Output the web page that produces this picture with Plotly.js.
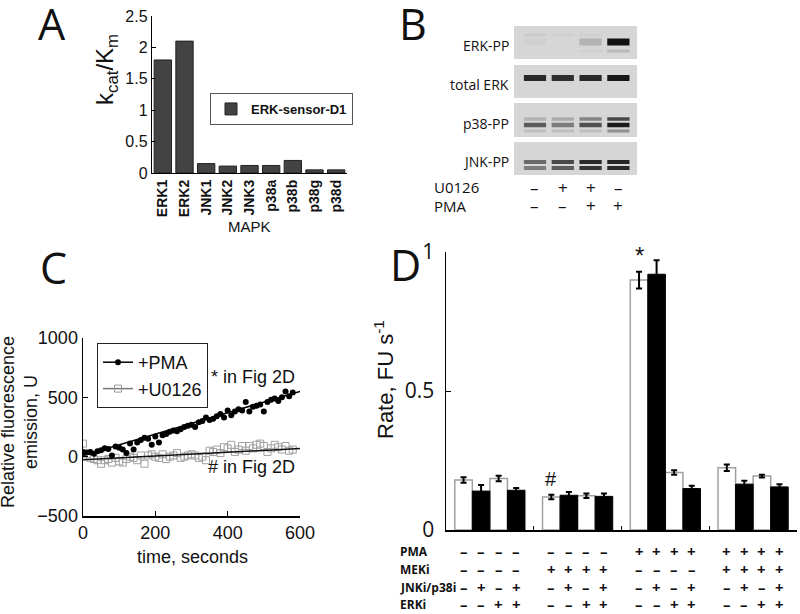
<!DOCTYPE html>
<html><head><meta charset="utf-8">
<script src="https://cdn.plot.ly/plotly-3.0.1.min.js"></script>
<style>html,body{margin:0;padding:0;background:#fff}#chart{width:800px;height:614px}</style>
</head><body><div id="chart"></div>
<script>
// ---------- Panel A data ----------
const mapk = ['ERK1','ERK2','JNK1','JNK2','JNK3','p38a','p38b','p38g','p38d'];
const kcatKm = [1.8, 2.1, 0.15, 0.11, 0.12, 0.12, 0.2, 0.05, 0.05];

// ---------- Panel B data (band intensities 0..1 per lane) ----------
const blotRows = ['ERK-PP','total ERK','p38-PP','JNK-PP'];
const lanes = [1, 2, 3, 4];
const u0126Signs = ['–','+','+','–'];
const pmaSignsB = ['–','–','+','+'];
const erkPPupper = [0.06, 0.03, 0.03, 0.0];
const erkPPmain = [0.03, 0.0, 0.18, 1.0];
const erkPPlower = [0.0, 0.0, 0.03, 0.15];
const totalERK = [0.88, 0.85, 0.88, 0.97];
const p38upper = [0.18, 0.22, 0.42, 0.72];
const p38main = [0.62, 0.45, 0.68, 0.95];
const p38lower = [0.12, 0.12, 0.12, 0.35];
const jnkUpper = [0.55, 0.72, 0.88, 0.9];
const jnkLower = [0.45, 0.62, 0.82, 0.88];

// ---------- Panel C data ----------
const timeS = [0,10,20,30,40,50,60,70,80,90,100,110,120,130,140,150,160,170,180,190,200,210,220,230,240,250,260,270,280,290,300,310,320,330,340,350,360,370,380,390,400,410,420,430,440,450,460,470,480,490,500,510,520,530,540,550,560,570,580];
const pmaFluor = [40,35,40,25,45,55,70,65,10,85,75,60,30,110,60,120,140,160,150,100,170,120,180,190,210,220,215,230,250,260,270,250,290,300,330,310,320,340,360,330,390,350,380,400,390,460,380,420,430,440,380,460,480,490,470,500,550,510,540];
const u0126Fluor = [110,20,-10,-20,-30,-60,-30,-20,-50,-10,-40,-50,-20,0,-10,-30,10,-60,10,20,0,-10,20,-20,0,10,30,-10,0,10,20,10,-10,0,-30,50,40,60,30,80,70,100,40,60,90,50,90,70,100,110,90,40,70,100,80,60,90,50,60];
const fitTime = [0, 600];
const fitPMA = [10, 550];
const fitU0126 = [-25, 68];

// ---------- Panel D data ----------
const rateMean = [0.18, 0.14, 0.185, 0.143, 0.119, 0.125, 0.123, 0.121, 0.899, 0.92, 0.207, 0.149, 0.224, 0.165, 0.194, 0.155];
const rateErr  = [0.01, 0.022, 0.01, 0.008, 0.008, 0.012, 0.008, 0.01, 0.03, 0.05, 0.008, 0.01, 0.012, 0.012, 0.005, 0.01];
const rowLabels = ['PMA','MEKi','JNKi/p38i','ERKi'];
const pmaRow  = ['–','–','–','–','–','–','–','–','+','+','+','+','+','+','+','+'];
const mekiRow = ['–','–','–','–','+','+','+','+','–','–','–','–','+','+','+','+'];
const jnkRow  = ['–','+','–','+','–','+','–','+','–','+','–','+','–','+','–','+'];
const erkRow  = ['–','–','+','+','–','–','+','+','–','–','+','+','–','–','+','+'];

// ---------- helpers ----------
const W = 800, H = 614;
const px = x => x / W;
const py = y => 1 - y / H;
const ARIAL = 'Liberation Sans, Arial, sans-serif';
const OPEN = 'Open Sans, sans-serif';

const traces = [];
const annotations = [];
const shapes = [];

// Panel A
traces.push({type:'bar', x: mapk, y: kcatKm, xaxis:'x', yaxis:'y', name:'ERK-sensor-D1',
  width: 0.8, marker:{color:'#434343', line:{color:'#222', width:1}}, legend:'legend'});

// Panel B bands
const bandDefs = [
  {v: erkPPupper, y: 35, w: 3}, {v: erkPPmain, y: 42, w: 7}, {v: erkPPlower, y: 51, w: 3},
  {v: totalERK, y: 78, w: 6},
  {v: p38upper, y: 119, w: 3.5}, {v: p38main, y: 125, w: 4.5}, {v: p38lower, y: 131, w: 3},
  {v: jnkUpper, y: 162, w: 4}, {v: jnkLower, y: 168, w: 4}
];
const rowTop = [26, 65, 103, 142], rowBot = [59, 98, 137, 175];
rowTop.forEach((t, i) => {
  shapes.push({type:'rect', xref:'x3 domain', yref:'y3', x0:0, x1:1, y0:t, y1:rowBot[i],
    fillcolor:'#d6d6d6', line:{width:0}, layer:'below'});
  annotations.push({text: blotRows[i], xref:'paper', yref:'y3', x: px(511), y: (t + rowBot[i]) / 2 + 3,
    xanchor:'right', showarrow:false, font:{family:OPEN, size:14, color:'#111'}});
});
bandDefs.forEach(b => {
  lanes.forEach((l, i) => {
    const inten = b.v[i];
    if (inten <= 0) return;
    const g = Math.round(214 - inten * 197);
    traces.push({type:'scatter', mode:'lines', xaxis:'x3', yaxis:'y3', showlegend:false, hoverinfo:'skip',
      x:[l - 0.4, l + 0.4], y:[b.y, b.y],
      line:{color:`rgb(${g},${g},${g})`, width: b.w}});
  });
});
lanes.forEach((l, i) => {
  annotations.push({text: u0126Signs[i], xref:'x3', yref:'paper', x: l, y: py(187), showarrow:false, borderpad:0,
    font:{family:OPEN, size:17, color:'#111'}});
  annotations.push({text: pmaSignsB[i], xref:'x3', yref:'paper', x: l, y: py(206), showarrow:false, borderpad:0,
    font:{family:OPEN, size:17, color:'#111'}});
});
annotations.push({text:'U0126', xref:'paper', yref:'paper', x: px(433), y: py(187), xanchor:'left', showarrow:false, borderpad:0,
  font:{family:OPEN, size:15, color:'#111'}});
annotations.push({text:'PMA', xref:'paper', yref:'paper', x: px(433), y: py(206), xanchor:'left', showarrow:false, borderpad:0,
  font:{family:OPEN, size:15, color:'#111'}});

// Panel C
traces.push({type:'scatter', mode:'markers', x: timeS, y: u0126Fluor, xaxis:'x2', yaxis:'y2', showlegend:false,
  marker:{symbol:'square-open', size:7, color:'#a0a0a0', line:{width:1}}});
traces.push({type:'scatter', mode:'markers', x: timeS, y: pmaFluor, xaxis:'x2', yaxis:'y2', showlegend:false,
  marker:{symbol:'circle', size:6, color:'#000'}});
traces.push({type:'scatter', mode:'lines', x: fitTime, y: fitPMA, xaxis:'x2', yaxis:'y2', showlegend:false,
  line:{color:'#000', width:1.5}});
traces.push({type:'scatter', mode:'lines', x: fitTime, y: fitU0126, xaxis:'x2', yaxis:'y2', showlegend:false,
  line:{color:'#111', width:1.5}});
traces.push({type:'scatter', mode:'lines+markers', x:[null], y:[null], xaxis:'x2', yaxis:'y2', name:'+PMA',
  legend:'legend2', line:{color:'#000', width:1.5}, marker:{symbol:'circle', size:6, color:'#000'}});
traces.push({type:'scatter', mode:'lines+markers', x:[null], y:[null], xaxis:'x2', yaxis:'y2', name:'+U0126',
  legend:'legend2', line:{color:'#777', width:1.5}, marker:{symbol:'square-open', size:7, color:'#999'}});

// Panel D
const barPos = rateMean.map((_, i) => Math.floor(i / 4) * 5 + (i % 4));
const idxNo = rateMean.map((_, i) => i).filter(i => jnkRow[i] === '–');
const idxJ = rateMean.map((_, i) => i).filter(i => jnkRow[i] === '+');
traces.push({type:'bar', xaxis:'x4', yaxis:'y4', showlegend:false, width:1,
  x: idxNo.map(i => barPos[i]), y: idxNo.map(i => rateMean[i]),
  marker:{color:'#fff', line:{color:'#a0a0a0', width:1.5}},
  error_y:{type:'data', array: idxNo.map(i => rateErr[i]), color:'#000', thickness:2, width:3}});
traces.push({type:'bar', xaxis:'x4', yaxis:'y4', showlegend:false, width:1,
  x: idxJ.map(i => barPos[i]), y: idxJ.map(i => rateMean[i]),
  marker:{color:'#000', line:{color:'#000', width:1}},
  error_y:{type:'data', array: idxJ.map(i => rateErr[i]), color:'#000', thickness:2, width:3}});
const rowsD = [pmaRow, mekiRow, jnkRow, erkRow];
const rowY = [551, 569, 587, 604];
rowsD.forEach((row, r) => {
  annotations.push({text: rowLabels[r], xref:'paper', yref:'paper', x: px(399), y: py(rowY[r]), xanchor:'left',
    showarrow:false, borderpad:0, font:{family:OPEN, size:12, color:'#111', weight:'bold'}});
  row.forEach((s, i) => {
    annotations.push({text: s, xref:'x4', yref:'paper', x: barPos[i], y: py(rowY[r]), showarrow:false, borderpad:0,
      font:{family:OPEN, size:15, color:'#111', weight:'bold'}});
  });
});
annotations.push({text:'*', xref:'x4', yref:'y4', x: barPos[8], y: rateMean[8] + rateErr[8], yshift: 16,
  showarrow:false, font:{family:ARIAL, size:24, color:'#111'}});
annotations.push({text:'#', xref:'x4', yref:'y4', x: barPos[4], y: rateMean[4] + rateErr[4], yshift: 16,
  showarrow:false, font:{family:ARIAL, size:20, color:'#111'}});

// titles / labels
annotations.push({text:'k<sub>cat</sub>/K<sub>m</sub>', xref:'paper', yref:'paper', x: px(106), y: py(70),
  textangle:-90, showarrow:false, font:{family:ARIAL, size:24, color:'#111'}});
annotations.push({text:'MAPK', xref:'paper', yref:'paper', x: px(249), y: py(227), showarrow:false,
  font:{family:ARIAL, size:15, color:'#111'}});
annotations.push({text:'Relative fluorescence<br>emission, U', xref:'paper', yref:'paper', x: px(19), y: py(422),
  textangle:-90, showarrow:false, borderpad:0, font:{family:ARIAL, size:18, color:'#111'}});
annotations.push({text:'time, seconds', xref:'paper', yref:'paper', x: px(192), y: py(557), showarrow:false,
  font:{family:ARIAL, size:18, color:'#111'}});
annotations.push({text:'* in Fig 2D', xref:'paper', yref:'paper', x: px(297), y: py(377), xanchor:'right',
  showarrow:false, font:{family:ARIAL, size:18, color:'#111'}});
annotations.push({text:'# in Fig 2D', xref:'paper', yref:'paper', x: px(297), y: py(467), xanchor:'right',
  showarrow:false, font:{family:ARIAL, size:18, color:'#111'}});
annotations.push({text:'Rate, FU s<sup>-1</sup>', xref:'paper', yref:'paper', x: px(384), y: py(380),
  textangle:-90, showarrow:false, font:{family:ARIAL, size:22, color:'#111'}});
// panel letters
[['A', 52, 23], ['B', 413, 23], ['C', 53, 267], ['D', 405, 264]].forEach(([t, x, y]) => {
  annotations.push({text:t, xref:'paper', yref:'paper', x: px(x), y: py(y), showarrow:false, borderpad:0,
    font:{family:OPEN, size:43, color:'#111'}});
});
annotations.forEach(a => {
  if (!a.xanchor) a.xanchor = 'center';
  if (!a.yanchor) a.yanchor = 'middle';
});

const axLine = {showline:true, linecolor:'#000', linewidth:1.5, showgrid:false, zeroline:false, fixedrange:true};
const layout = {
  width: W, height: H, margin:{l:0, r:0, t:0, b:0, pad:0},
  paper_bgcolor:'#fff', plot_bgcolor:'rgba(0,0,0,0)',
  barmode:'overlay', showlegend:true,
  font:{family:ARIAL, color:'#111'},
  xaxis: Object.assign({}, axLine, {domain:[px(152), px(347)], anchor:'y', range:[-0.5, 8.5], ticks:'',
    tickangle:-90, tickfont:{family:ARIAL, size:14, weight:'bold', color:'#111'}, linewidth:1.2}),
  yaxis: Object.assign({}, axLine, {domain:[py(173), py(16)], anchor:'x', range:[0, 2.5], dtick:0.5,
    ticks:'inside', ticklen:4, tickcolor:'#000', tickfont:{family:ARIAL, size:16, color:'#111'}, linewidth:1.2}),
  xaxis2: Object.assign({}, axLine, {domain:[px(83), px(300)], anchor:'y2', range:[0, 600], tickvals:[0,200,400,600],
    ticks:'inside', ticklen:5, tickcolor:'#000', tickfont:{family:ARIAL, size:18, color:'#111'}}),
  yaxis2: Object.assign({}, axLine, {domain:[py(516), py(338)], anchor:'x2', range:[-500, 1000], tickvals:[-500,0,500,1000],
    ticks:'inside', ticklen:5, tickcolor:'#000', tickfont:{family:ARIAL, size:18, color:'#111'}}),
  xaxis3: {domain:[px(514), px(637)], anchor:'y3', range:[0.245, 4.67], visible:false, fixedrange:true},
  yaxis3: {domain:[py(180), py(20)], anchor:'x3', range:[180, 20], visible:false, fixedrange:true},
  xaxis4: Object.assign({}, axLine, {domain:[px(446), px(797)], anchor:'y4', range:[-1, 19], tickvals:[4, 9, 14],
    ticks:'inside', ticklen:4, tickcolor:'#000', showticklabels:false}),
  yaxis4: Object.assign({}, axLine, {domain:[py(530), py(252)], anchor:'x4', range:[0, 1], tickvals:[0, 0.5, 1],
    ticktext:['0','0.5','1'], ticks:'inside', ticklen:5, tickcolor:'#000', ticklabelstandoff:6,
    tickfont:{family:OPEN, size:21, color:'#111'}}),
  legend: {x: px(210), y: py(93), xanchor:'left', yanchor:'top', bgcolor:'#fff', bordercolor:'#555', borderwidth:1,
    font:{family:ARIAL, size:13, weight:'bold', color:'#111'}, itemwidth:30, tracegroupgap:0},
  legend2: {x: px(97), y: py(343), xanchor:'left', yanchor:'top', bgcolor:'#fff', bordercolor:'#222', borderwidth:1,
    font:{family:ARIAL, size:18, color:'#111'}, itemwidth:30, tracegroupgap:0},
  annotations, shapes
};
Plotly.newPlot('chart', traces, layout, {staticPlot:true, displayModeBar:false});
</script></body></html>
